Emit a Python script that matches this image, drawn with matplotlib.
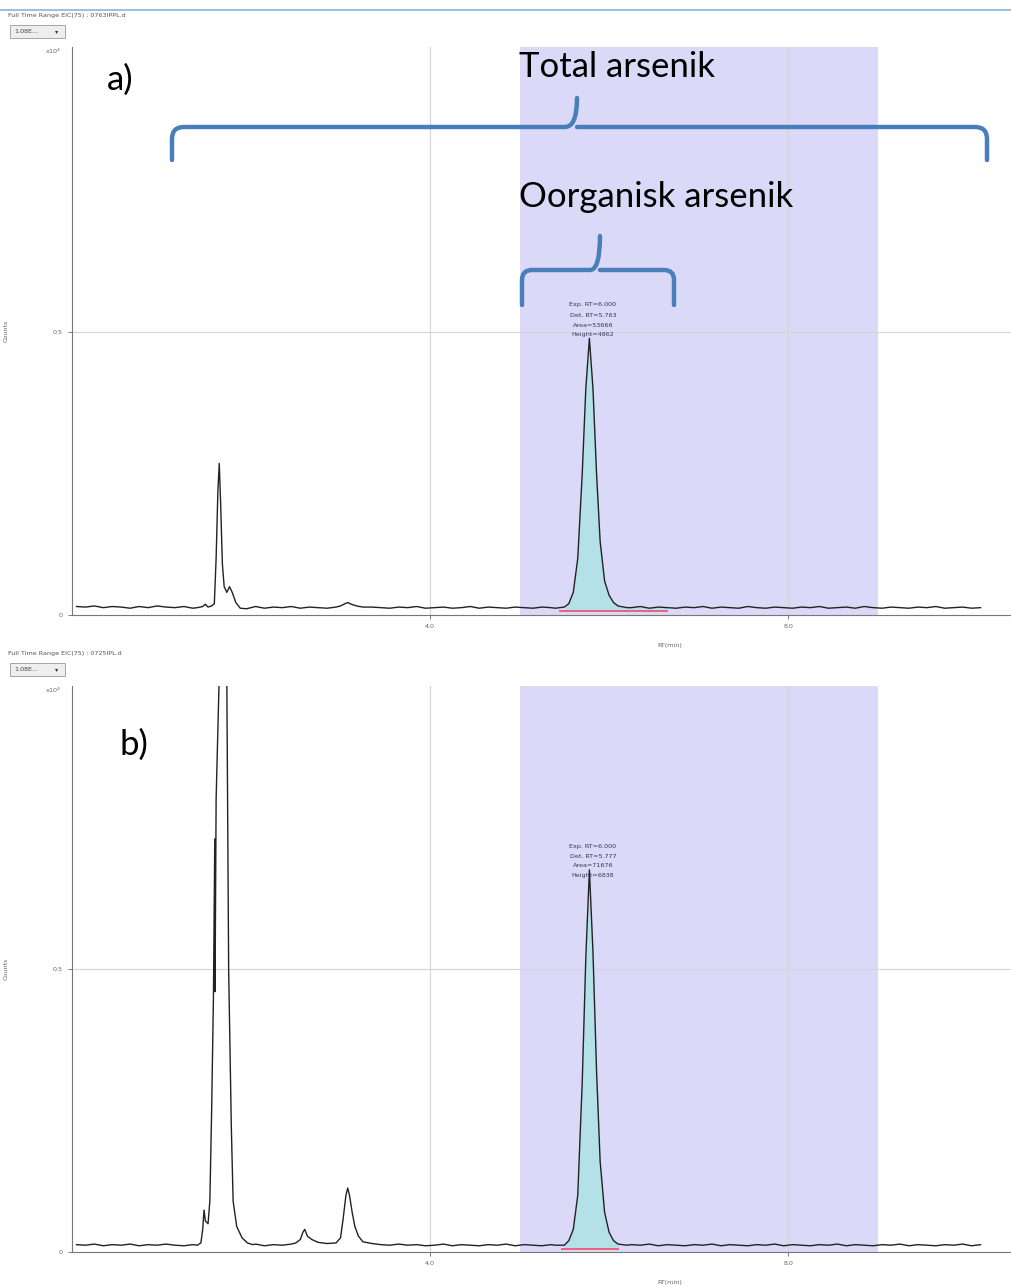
import numpy as np
import matplotlib
matplotlib.use("Agg")
import matplotlib.pyplot as plt
from matplotlib.path import Path
from matplotlib.patches import PathPatch, Rectangle

# ---------------- data (intensity in x10^4 counts) ----------------
base_t = np.round(np.arange(0.05, 10.25, 0.1), 2)

base_a = [0.015, 0.014, 0.016, 0.013, 0.015, 0.014, 0.012, 0.015, 0.013, 0.016,
          0.014, 0.013, 0.015, 0.012, 0.016, 0.014, 0.013, 0.014, 0.012, 0.013,
          0.015, 0.012, 0.014, 0.013, 0.015, 0.012, 0.014, 0.013, 0.012, 0.014,
          0.013, 0.015, 0.012, 0.014, 0.013, 0.012, 0.014, 0.013, 0.015, 0.012,
          0.013, 0.014, 0.012, 0.013, 0.015, 0.012, 0.014, 0.013, 0.012, 0.014,
          0.013, 0.012, 0.014, 0.013, 0.012, 0.014, 0.012, 0.013, 0.015, 0.012,
          0.014, 0.012, 0.013, 0.015, 0.012, 0.014, 0.013, 0.012, 0.014, 0.013,
          0.015, 0.012, 0.014, 0.013, 0.012, 0.015, 0.013, 0.012, 0.014, 0.013,
          0.012, 0.014, 0.013, 0.015, 0.012, 0.013, 0.014, 0.012, 0.015, 0.013,
          0.012, 0.014, 0.013, 0.012, 0.014, 0.013, 0.015, 0.012, 0.013, 0.014,
          0.012, 0.013]

base_b = [0.013, 0.012, 0.014, 0.011, 0.013, 0.012, 0.014, 0.011, 0.013, 0.012,
          0.014, 0.012, 0.011, 0.013, 0.012, 0.014, 0.012, 0.011, 0.013, 0.012,
          0.014, 0.011, 0.013, 0.012, 0.014, 0.013, 0.015, 0.013, 0.014, 0.012,
          0.014, 0.013, 0.012, 0.014, 0.013, 0.012, 0.014, 0.012, 0.013, 0.011,
          0.012, 0.014, 0.011, 0.013, 0.012, 0.011, 0.013, 0.012, 0.014, 0.011,
          0.013, 0.012, 0.011, 0.013, 0.012, 0.011, 0.013, 0.012, 0.011, 0.013,
          0.012, 0.011, 0.013, 0.012, 0.014, 0.011, 0.013, 0.012, 0.011, 0.013,
          0.012, 0.014, 0.011, 0.013, 0.012, 0.011, 0.013, 0.012, 0.014, 0.011,
          0.013, 0.012, 0.011, 0.013, 0.012, 0.014, 0.011, 0.013, 0.012, 0.011,
          0.013, 0.012, 0.014, 0.011, 0.013, 0.012, 0.011, 0.013, 0.012, 0.014,
          0.011, 0.013]

# peaks, panel a
pk_a1_t = [1.40, 1.46, 1.49, 1.52, 1.56, 1.59, 1.61, 1.63, 1.645, 1.66, 1.68, 1.70, 1.73, 1.76, 1.79, 1.83, 1.88, 1.95]
pk_a1_y = [0.013, 0.015, 0.019, 0.014, 0.016, 0.020, 0.10, 0.22, 0.268, 0.20, 0.09, 0.05, 0.04, 0.05, 0.04, 0.022, 0.012, 0.011]
pk_a2_t = [2.95, 3.00, 3.05, 3.08, 3.12, 3.18, 3.25]
pk_a2_y = [0.014, 0.016, 0.020, 0.022, 0.019, 0.016, 0.014]
pk_a3_t = [5.40, 5.50, 5.55, 5.60, 5.65, 5.70, 5.74, 5.78, 5.82, 5.86, 5.90, 5.95, 6.00, 6.05, 6.10, 6.20]
pk_a3_y = [0.012, 0.014, 0.020, 0.040, 0.10, 0.25, 0.40, 0.489, 0.40, 0.25, 0.13, 0.06, 0.035, 0.022, 0.016, 0.013]

# peaks, panel b
pk_b1_t = [1.40, 1.44, 1.46, 1.475, 1.49, 1.52, 1.54, 1.56, 1.58, 1.595, 1.598, 1.61, 1.65, 1.67, 1.71, 1.73,
           1.75, 1.78, 1.80, 1.84, 1.90, 1.96, 2.02]
pk_b1_y = [0.012, 0.016, 0.040, 0.074, 0.055, 0.050, 0.09, 0.25, 0.45, 0.73, 0.46, 0.80, 1.05, 1.40, 1.40, 1.00,
           0.50, 0.22, 0.09, 0.045, 0.025, 0.016, 0.013]
pk_b2_t = [2.50, 2.55, 2.58, 2.60, 2.63, 2.68, 2.75, 2.85, 2.95, 3.00, 3.03, 3.06, 3.08, 3.10, 3.13, 3.16, 3.20,
           3.25, 3.35]
pk_b2_y = [0.016, 0.022, 0.035, 0.040, 0.028, 0.022, 0.017, 0.015, 0.016, 0.025, 0.06, 0.10, 0.113, 0.10, 0.07,
           0.045, 0.028, 0.018, 0.015]
pk_b3_t = [5.40, 5.50, 5.55, 5.60, 5.65, 5.70, 5.74, 5.78, 5.82, 5.86, 5.90, 5.95, 6.00, 6.05, 6.10, 6.20]
pk_b3_y = [0.012, 0.012, 0.020, 0.040, 0.10, 0.30, 0.52, 0.675, 0.53, 0.32, 0.16, 0.07, 0.035, 0.020, 0.014, 0.012]

shade = (5.0, 9.0)
integ_a = (5.45, 6.65, 0.007)
integ_b = (5.47, 6.10, 0.005)
ann_a = ["Exp. RT=6.000", "Det. RT=5.763", "Area=53666", "Height=4862"]
ann_b = ["Exp. RT=6.000", "Det. RT=5.777", "Area=71676", "Height=6838"]
hdr_a = "Full Time Range EIC(75) : 0763IPPL.d"
hdr_b = "Full Time Range EIC(75) : 0725IPL.d"
xticks = [4.0, 8.0]
yticks = [0, 0.5]


def trace(base_y, peaks):
    t = np.array(base_t, float)
    y = np.array(base_y, float)
    keep = np.ones_like(t, bool)
    for pt, py in peaks:
        keep &= ~((t >= pt[0]) & (t <= pt[-1]))
    tt = [t[keep]] + [np.array(p[0]) for p in peaks]
    yy = [y[keep]] + [np.array(p[1]) for p in peaks]
    tt = np.concatenate(tt)
    yy = np.concatenate(yy)
    o = np.argsort(tt)
    return tt[o], yy[o]


ta, ya = trace(base_a, [(pk_a1_t, pk_a1_y), (pk_a2_t, pk_a2_y), (pk_a3_t, pk_a3_y)])
tb, yb = trace(base_b, [(pk_b1_t, pk_b1_y), (pk_b2_t, pk_b2_y), (pk_b3_t, pk_b3_y)])

W, H = 1011, 1286
fig = plt.figure(figsize=(W / 100, H / 100), dpi=100)
fig.patch.set_facecolor("white")

small = 4.6


def panel(rect, t, y, integ, ann, ann_y, ytop):
    ax = fig.add_axes(rect)
    ax.set_xlim(0, 10.49)
    ax.set_ylim(0, ytop)
    ax.axvspan(shade[0], shade[1], color="#dadaf8", zorder=0, lw=0)
    for xv in xticks:
        ax.axvline(xv, color="#d4d4d4", lw=0.8, zorder=0.5)
    ax.axhline(0.5, color="#d4d4d4", lw=0.8, zorder=0.5)
    s, e, b = integ
    m = (t >= s) & (t <= e)
    ax.fill_between(t[m], y[m], b, color="#b4e0e8", zorder=1, lw=0)
    ax.plot([s, e], [b, b], color="#f0607e", lw=1.4, zorder=2.5)
    ax.plot(t, y, color="#222222", lw=1.0, zorder=3)
    for sp in ["top", "right"]:
        ax.spines[sp].set_visible(False)
    ax.spines["left"].set_color("#777777")
    ax.spines["bottom"].set_color("#777777")
    ax.set_xticks(xticks)
    ax.set_xticklabels(["%.1f" % v for v in xticks])
    ax.set_yticks(yticks)
    ax.set_yticklabels(["0", "0.5"])
    ax.tick_params(labelsize=small, colors="#666666", length=3, width=0.6)
    for i, line in enumerate(ann):
        ax.text(5.82, ann_y[i], line, fontsize=small, ha="center", va="center", color="#333355", zorder=4)
    ax.text(-0.12, ytop, "x10$^4$", fontsize=small, ha="right", va="top", color="#666666")
    ax.set_ylabel("Counts", fontsize=small, color="#666666", labelpad=32)
    ax.set_xlabel("RT(min)", fontsize=small, color="#666666", labelpad=10)
    ax.xaxis.set_label_coords((670 - 72) / (W - 72), -0.05)
    return ax


axa = panel([72 / W, 1 - 615 / H, (W - 72) / W, (615 - 47) / H], ta, ya, integ_a, ann_a,
            [0.548, 0.530, 0.512, 0.496], 1.004)
axb = panel([72 / W, 1 - 1252 / H, (W - 72) / W, (1252 - 686) / H], tb, yb, integ_b, ann_b,
            [0.716, 0.698, 0.682, 0.666], 1.0)

# overlay in pixel coordinates for annotations
ov = fig.add_axes([0, 0, 1, 1], zorder=10)
ov.set_xlim(0, W)
ov.set_ylim(H, 0)
ov.axis("off")
ov.patch.set_alpha(0)

ov.plot([0, W], [10, 10], color="#8fb4dc", lw=1.2)
for (hy, txt) in [(16, hdr_a), (654, hdr_b)]:
    ov.text(8, hy, txt, fontsize=small, color="#555555", va="center", ha="left")
    ov.add_patch(Rectangle((10, hy + 9), 55, 13, facecolor="#eeeeee", edgecolor="#999999", lw=0.6))
    ov.text(14, hy + 15.5, "1.08E...", fontsize=small, va="center", color="#444444")
    ov.text(57, hy + 15.5, "\u25BE", fontsize=small, va="center", ha="center", color="#333333")

blue = "#4a7ebb"


def brace(x0, x1, xc, ym, yend, ytip, r=10):
    verts = [(x0, yend), (x0, ym + r), (x0, ym), (x0 + r, ym), (xc - r, ym), (xc, ym), (xc, ytip),
             (xc, ym), (xc + r, ym), (x1 - r, ym), (x1, ym), (x1, ym + r), (x1, yend)]
    codes = [Path.MOVETO, Path.LINETO, Path.CURVE3, Path.CURVE3, Path.LINETO, Path.CURVE3, Path.CURVE3,
             Path.MOVETO, Path.CURVE3, Path.LINETO, Path.CURVE3, Path.CURVE3, Path.LINETO]
    ov.add_patch(PathPatch(Path(verts, codes), facecolor="none", edgecolor=blue, lw=3.2,
                           capstyle="round", joinstyle="round"))


brace(172, 987, 577, 127, 160, 98, r=12)
brace(522, 674, 600, 270, 305, 236, r=10)

big = dict(fontsize=25, family=["Lato", "DejaVu Sans"], color="black", va="center", ha="left")
ov.text(519, 67, "Total arsenik", **big)
ov.text(519, 197, "Oorganisk arsenik", **big)
ov.text(107, 80, "a)", **big)
ov.text(119, 745, "b)", **big)

fig.savefig("out.png", dpi=100)
